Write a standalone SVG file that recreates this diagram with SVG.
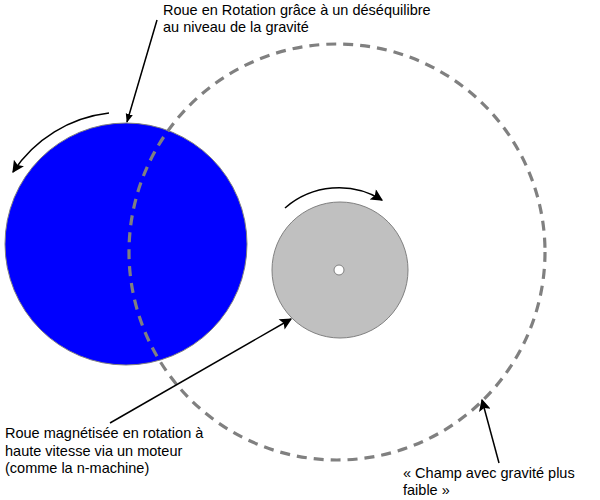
<svg xmlns="http://www.w3.org/2000/svg" width="600" height="500" viewBox="0 0 600 500">
<style>
text{font-family:"Liberation Sans",Arial,sans-serif;font-size:14.5px;fill:#000}
.c{stroke:#000;stroke-width:1.5;fill:none}
</style>
<defs>
<marker id="ah" viewBox="0 0 10 10" refX="9" refY="5" markerWidth="9" markerHeight="9" markerUnits="userSpaceOnUse" orient="auto">
<path d="M0,1 L10,5 L0,9 Z" fill="#000"/>
</marker>
<marker id="ab" viewBox="0 0 10 10" refX="9" refY="5" markerWidth="14" markerHeight="12" markerUnits="userSpaceOnUse" orient="auto">
<path d="M0,0 L10,5 L0,10 L2,5 Z" fill="#000"/>
</marker>
</defs>
<g id="wheel-blue"><circle cx="126" cy="244" r="121" fill="#0000FF" stroke="#808080" stroke-width="1"/></g>
<g id="wheel-gray"><circle cx="340" cy="270" r="68" fill="#C0C0C0" stroke="#808080" stroke-width="1"/><circle cx="339" cy="270" r="5" fill="#fff" stroke="#808080" stroke-width="1"/></g>
<g id="field"><circle cx="337" cy="252" r="208" fill="none" stroke="#808080" stroke-width="3.2" stroke-dasharray="10 7"/></g>
<g id="label-top"><text x="163" y="15">Roue en Rotation grâce à un déséquilibre</text><text x="163" y="32">au niveau de la gravité</text></g>
<g id="label-bottom"><text x="5" y="438">Roue magnétisée en rotation à</text><text x="5" y="456">haute vitesse via un moteur</text><text x="5" y="473">(comme la n-machine)</text></g>
<g id="label-field"><text x="403" y="478">« Champ avec gravité plus</text><text x="403" y="495">faible »</text></g>
<g id="connectors">
<line class="c" x1="157" y1="20" x2="127" y2="122" stroke-width="1" marker-end="url(#ah)"/>
<path class="c" d="M109,113 A133,133 0 0,0 13,172" marker-end="url(#ab)"/>
<path class="c" d="M285,208 A82,82 0 0,1 382,200" marker-end="url(#ab)"/>
<line class="c" x1="110" y1="423" x2="291" y2="319" marker-end="url(#ab)"/>
<line class="c" x1="499" y1="463" x2="482" y2="400" marker-end="url(#ab)"/>
</g>
</svg>
